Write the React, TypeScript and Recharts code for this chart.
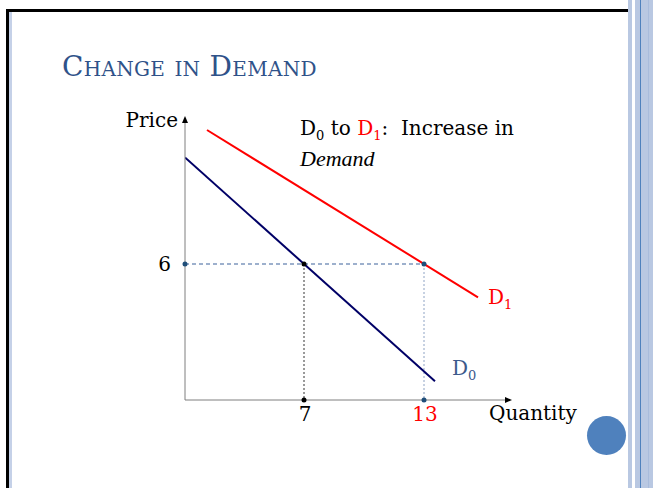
import { LineChart, Line, XAxis, YAxis, ReferenceDot } from 'recharts';

// demand curves (quantity q, price p)
const demand0 = [
  { q: 1.05, p: 10.7 },
  { q: 13.55, p: 0.83 },
];
const demand1 = [
  { q: 2.15, p: 11.91 },
  { q: 15.7, p: 4.53 },
];
const priceGuide = [
  { q: 1.05, p: 6 },
  { q: 13, p: 6 },
];
const guideAt7 = [
  { q: 7, p: 6 },
  { q: 7, p: 0 },
];
const guideAt13 = [
  { q: 13, p: 6 },
  { q: 13, p: 0 },
];
const xTicks = [7, 13];
const yTicks = [6];

const X_MIN = 1.05;
const X_MAX = 17.3;
const Y_MAX = 12.44;

const FONT = '"DejaVu Serif", serif';
const AXIS = '#7f7f7f';

const Arrow = ({ cx, cy, dir }: any) => {
  if (cx == null || cy == null) return null;
  const pts =
    dir === 'up'
      ? `${cx},${cy - 2} ${cx - 3},${cy + 5} ${cx + 3},${cy + 5}`
      : `${cx + 2},${cy} ${cx - 5},${cy - 3} ${cx - 5},${cy + 3}`;
  return <polygon points={pts} fill="#000" />;
};

const XTick = ({ x, y, payload }: any) => (
  <text
    x={x + 1}
    y={y + 13}
    textAnchor="middle"
    fontFamily={FONT}
    fontSize={20}
    fill={payload.value === 13 ? '#ff0000' : '#000'}
  >
    {payload.value}
  </text>
);

const YTick = ({ x, y, payload }: any) => (
  <text x={x - 6} y={y + 7} textAnchor="end" fontFamily={FONT} fontSize={20} fill="#000">
    {payload.value}
  </text>
);

const sub = { fontSize: 13, verticalAlign: 'sub' as const };

export default function App() {
  return (
    <div
      style={{
        position: 'absolute',
        left: 0,
        top: 0,
        width: 653,
        height: 488,
        background: '#fff',
        overflow: 'hidden',
        fontFamily: FONT,
      }}
    >
      {/* slide frame */}
      <div style={{ position: 'absolute', left: 6, top: 9, width: 623, height: 3, background: '#000' }} />
      <div style={{ position: 'absolute', left: 6, top: 9, width: 3, height: 479, background: '#000' }} />
      <div style={{ position: 'absolute', left: 9, top: 12, width: 3, height: 476, background: '#c5d1e8' }} />
      <div style={{ position: 'absolute', left: 628, top: 0, width: 4, height: 488, background: '#b9c8e2' }} />
      <div style={{ position: 'absolute', left: 635, top: 0, width: 18, height: 488, background: '#b9c8e2' }} />
      <div style={{ position: 'absolute', left: 640, top: 0, width: 1, height: 488, background: '#4f81bd' }} />
      <div style={{ position: 'absolute', left: 648, top: 0, width: 1, height: 488, background: '#a9bcdc' }} />
      <div
        style={{
          position: 'absolute',
          left: 587,
          top: 416,
          width: 39,
          height: 39,
          borderRadius: '50%',
          background: '#4f81bd',
        }}
      />

      <div
        style={{
          position: 'absolute',
          left: 62,
          top: 51,
          fontSize: 28,
          fontVariant: 'small-caps',
          color: '#2f5289',
          whiteSpace: 'nowrap',
          lineHeight: '32px',
          letterSpacing: 0.3,
        }}
      >
        Change in Demand
      </div>

      <LineChart
        width={653}
        height={488}
        margin={{ top: 118, right: 143, bottom: 87, left: 184 }}
        style={{ position: 'absolute', left: 0, top: 0 }}
      >
        <XAxis
          type="number"
          dataKey="q"
          domain={[X_MIN, X_MAX]}
          allowDataOverflow
          ticks={xTicks}
          tick={<XTick />}
          tickLine={false}
          axisLine={{ stroke: AXIS, strokeWidth: 1 }}
          height={1}
        />
        <YAxis
          type="number"
          dataKey="p"
          domain={[0, Y_MAX]}
          allowDataOverflow
          ticks={yTicks}
          tick={<YTick />}
          tickLine={false}
          axisLine={{ stroke: AXIS, strokeWidth: 1 }}
          width={1}
        />
        <Line data={priceGuide} dataKey="p" stroke="#7d97bd" strokeWidth={1.5} strokeDasharray="4 3" dot={false} isAnimationActive={false} />
        <Line data={guideAt7} dataKey="p" stroke="#333" strokeWidth={1} strokeDasharray="2 2" dot={false} isAnimationActive={false} />
        <Line data={guideAt13} dataKey="p" stroke="#8ea3c4" strokeWidth={1} strokeDasharray="2 2" dot={false} isAnimationActive={false} />
        <Line data={demand0} dataKey="p" stroke="#000066" strokeWidth={2} dot={false} isAnimationActive={false} />
        <Line data={demand1} dataKey="p" stroke="#ff0000" strokeWidth={2} dot={false} isAnimationActive={false} />
        <ReferenceDot x={X_MIN} y={6} r={2.5} fill="#1f4e79" stroke="none" ifOverflow="visible" />
        <ReferenceDot x={7} y={6} r={2.5} fill="#000" stroke="none" ifOverflow="visible" />
        <ReferenceDot x={13} y={6} r={2.5} fill="#1f4e79" stroke="none" ifOverflow="visible" />
        <ReferenceDot x={7} y={0} r={2.5} fill="#000" stroke="none" ifOverflow="visible" />
        <ReferenceDot x={13} y={0} r={2.5} fill="#1f4e79" stroke="none" ifOverflow="visible" />
        <ReferenceDot x={X_MIN} y={Y_MAX} ifOverflow="visible" shape={(p: any) => <Arrow {...p} dir="up" />} />
        <ReferenceDot x={X_MAX} y={0} ifOverflow="visible" shape={(p: any) => <Arrow {...p} dir="right" />} />
      </LineChart>

      <div style={{ position: 'absolute', right: 653 - 178, top: 107, fontSize: 20, lineHeight: '26px' }}>Price</div>
      <div style={{ position: 'absolute', left: 489, top: 400, fontSize: 20, lineHeight: '26px' }}>Quantity</div>

      <div style={{ position: 'absolute', left: 300, top: 117, fontSize: 20, lineHeight: '23px', whiteSpace: 'nowrap' }}>
        D<span style={sub}>0</span> to <span style={{ color: '#ff0000' }}>D<span style={sub}>1</span></span>:&nbsp; Increase in
        <br />
        <i style={{ fontFamily: '"Liberation Serif", serif', fontSize: 22 }}>Demand</i>
      </div>
      <div style={{ position: 'absolute', left: 488, top: 285, fontSize: 20, lineHeight: '25px', color: '#ff0000' }}>
        D<span style={sub}>1</span>
      </div>
      <div style={{ position: 'absolute', left: 452, top: 356, fontSize: 20, lineHeight: '25px', color: '#3c5a8c' }}>
        D<span style={sub}>0</span>
      </div>
    </div>
  );
}
